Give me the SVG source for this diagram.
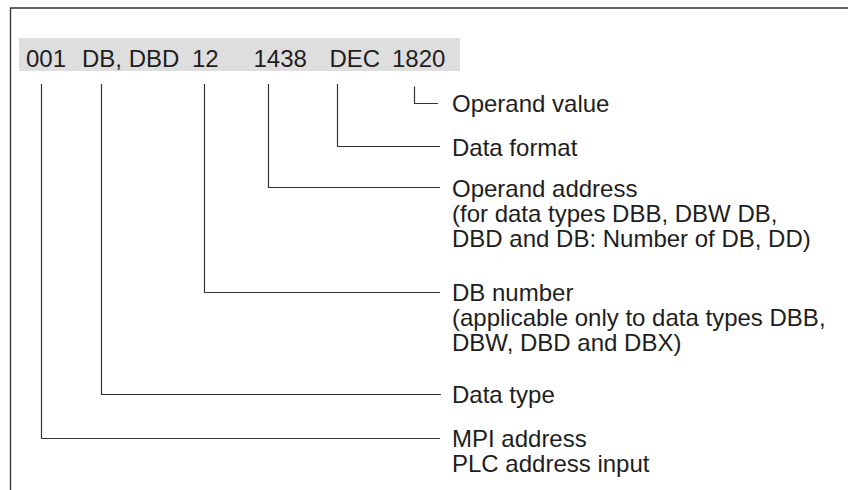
<svg xmlns="http://www.w3.org/2000/svg" width="848" height="490" viewBox="0 0 848 490">
<style>
.t{font-family:"Liberation Sans",Arial,Helvetica,sans-serif;font-size:24px;fill:#1e1e1e}
.c{fill:none;stroke:#333;stroke-width:1.2}
.f{fill:none;stroke:#333;stroke-width:1.3}
</style>
<rect width="848" height="490" fill="#ffffff"/>
<path class="f" d="M10.5 490 V8 H848"/>
<g id="header">
<rect x="19" y="38" width="441" height="33" fill="#dedede"/>
<text class="t" x="26" y="66.5">001</text>
<text class="t" x="82" y="66.5">DB, DBD</text>
<text class="t" x="192" y="66.5">12</text>
<text class="t" x="253.5" y="66.5">1438</text>
<text class="t" x="329.5" y="66.5">DEC</text>
<text class="t" x="392" y="66.5">1820</text>
</g>
<g id="connectors">
<path class="c" d="M41.5 84 V438.5 H440"/>
<path class="c" d="M101.5 84 V394.5 H441"/>
<path class="c" d="M204.5 84 V292.5 H440"/>
<path class="c" d="M268.5 84 V187.5 H440"/>
<path class="c" d="M337.5 84 V146.5 H440"/>
<path class="c" d="M414.5 86.5 V103.5 H438"/>
</g>
<g id="operand-value"><text class="t" x="452" y="112">Operand value</text></g>
<g id="data-format"><text class="t" x="452" y="155.5">Data format</text></g>
<g id="operand-address"><text class="t" x="452" y="197">Operand address<tspan x="452" dy="25">(for data types DBB, DBW DB,</tspan><tspan x="452" dy="25">DBD and DB: Number of DB, DD)</tspan></text></g>
<g id="db-number"><text class="t" x="452" y="301">DB number<tspan x="452" dy="25">(applicable only to data types DBB,</tspan><tspan x="452" dy="25">DBW, DBD and DBX)</tspan></text></g>
<g id="data-type"><text class="t" x="452" y="403">Data type</text></g>
<g id="mpi-address"><text class="t" x="452" y="447">MPI address<tspan x="452" dy="25">PLC address input</tspan></text></g>
</svg>
